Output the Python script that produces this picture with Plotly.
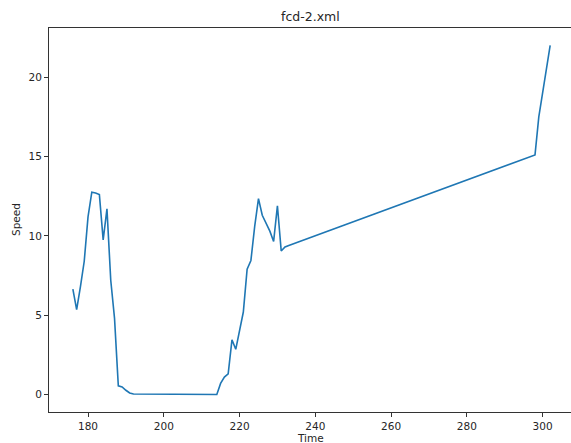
import plotly.graph_objects as go

time = [176, 177, 178, 179, 180, 181, 182, 183, 184, 185, 186, 187, 188, 189, 190, 191, 192,
        214, 215, 216, 217, 218, 219, 220, 221, 222, 223, 224, 225, 226, 227, 228, 229, 230,
        231, 232, 233, 298, 299, 300, 301, 302]
speed = [6.65, 5.35, 6.8, 8.4, 11.2, 12.75, 12.7, 12.6, 9.75, 11.7, 7.2, 4.8, 0.55, 0.48, 0.27, 0.1, 0.03,
         0.0, 0.7, 1.1, 1.3, 3.45, 2.85, 3.95, 5.2, 7.9, 8.45, 10.6, 12.35, 11.3, 10.8, 10.3, 9.65, 11.9,
         9.05, 9.3, 9.4, 15.1, 17.5, 19.0, 20.5, 22.0]

title_text = "fcd-2.xml"
x_label = "Time"
y_label = "Speed"
x_ticks = [180, 200, 220, 240, 260, 280, 300]
y_ticks = [0, 5, 10, 15, 20]

FONT = "DejaVu Sans"
INK = "#262626"

fig = go.Figure()
fig.add_trace(go.Scatter(x=time, y=speed, mode="lines",
                         line=dict(color="#1f77b4", width=1.6), hoverinfo="skip"))

fig.update_layout(
    width=571, height=443,
    margin=dict(l=49, r=0, t=28, b=31),
    paper_bgcolor="white", plot_bgcolor="white",
    showlegend=False,
    font=dict(family=FONT, size=10, color=INK),
    xaxis=dict(range=[169.7, 307.5], tickvals=x_ticks, ticktext=[str(v) for v in x_ticks],
               showgrid=False, zeroline=False, showline=True, linecolor="#333333", linewidth=1,
               mirror=True, ticks="outside", ticklen=4, tickcolor="#333333", tickwidth=1,
               tickfont=dict(family=FONT, size=10.5, color=INK)),
    yaxis=dict(range=[-1.1, 23.1], tickvals=y_ticks, ticktext=[str(v) for v in y_ticks],
               showgrid=False, zeroline=False, showline=True, linecolor="#333333", linewidth=1,
               ticks="outside", ticklen=4, tickcolor="#333333", tickwidth=1,
               tickfont=dict(family=FONT, size=10.5, color=INK)),
    annotations=[
        dict(text=title_text, xref="paper", yref="paper", x=0.5, y=1.031, xanchor="center",
             yanchor="middle", showarrow=False, font=dict(family=FONT, size=12.5, color=INK)),
        dict(text=x_label, xref="paper", yref="paper", x=0.5, y=-0.068, xanchor="center",
             yanchor="middle", showarrow=False, font=dict(family=FONT, size=10.5, color=INK)),
        dict(text=y_label, xref="paper", yref="paper", x=-0.0632, y=0.5, xanchor="center",
             yanchor="middle", showarrow=False, textangle=-90,
             font=dict(family=FONT, size=10.5, color=INK)),
    ],
)

fig.write_html("out.html")
